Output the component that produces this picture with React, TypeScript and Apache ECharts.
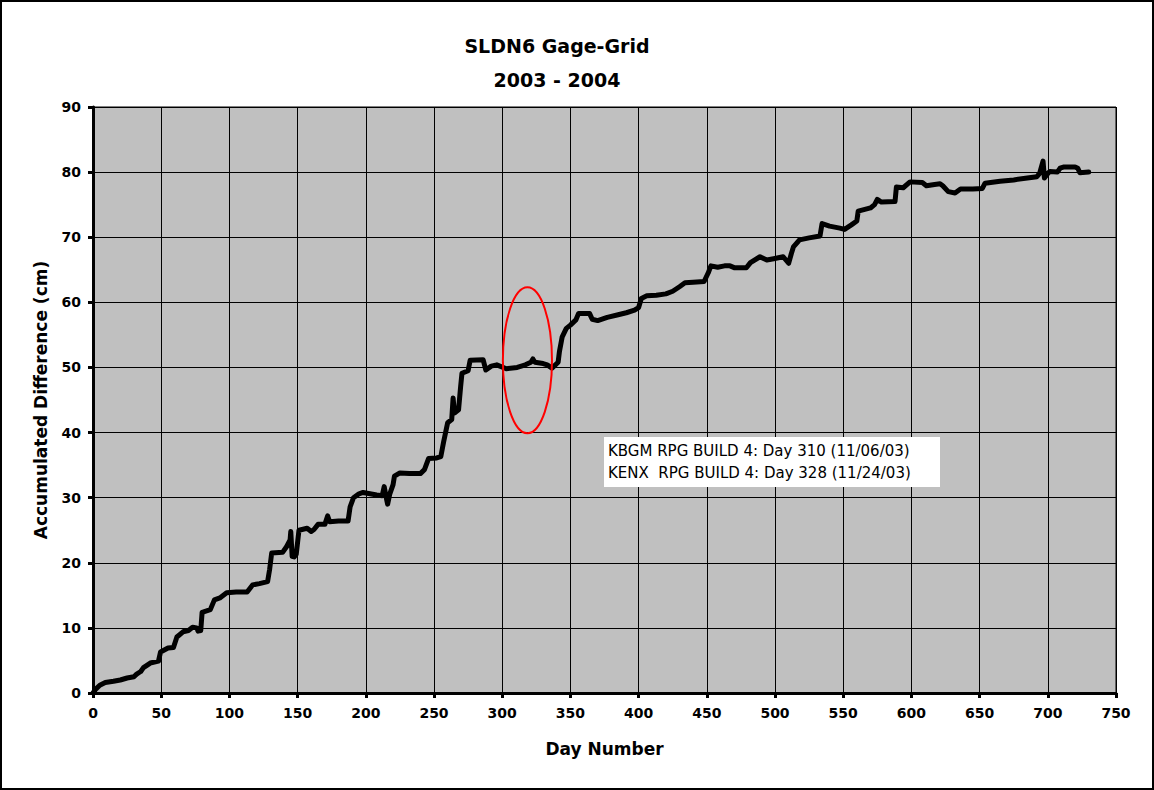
import React, { useEffect, useRef } from "react";
import * as echarts from "echarts";

const titleLines = ["SLDN6 Gage-Grid", "2003 - 2004"];
const xAxisName = "Day Number";
const yAxisName = "Accumulated Difference (cm)";
const noteLines = [
  "KBGM RPG BUILD 4: Day 310 (11/06/03)",
  "KENX  RPG BUILD 4: Day 328 (11/24/03)",
];

const days = [
  0, 2, 5, 9, 15, 20, 25, 30, 32, 35, 37, 42, 48, 49.5, 55, 59, 61.5, 66, 70, 73, 76, 77, 79, 80, 86, 89, 93, 98, 105, 113,
  117, 122, 128, 129.5, 131, 139, 142, 144.5, 145, 146, 147.5, 149, 151, 157, 160, 162, 165, 170, 172, 173.5, 180, 187,
  188.5, 191, 195, 198, 203, 208, 212, 213.5, 215, 216, 217.5, 220, 221, 225, 232, 240, 243, 246, 252, 255, 257, 258.5,
  260, 263, 264, 265, 268, 269.5, 270.5, 275, 276.5, 286, 288, 292, 296, 303, 311, 317, 321, 322.5, 324, 330, 333, 336.5,
  341, 342, 344, 347, 350, 354, 356, 364, 366, 370, 377, 385, 391, 397, 400, 402, 406, 413, 420, 425, 430, 434, 440, 448,
  451, 453, 458, 463, 467, 470.5, 479, 482, 489, 494, 499, 506, 508, 510, 512, 513.5, 518, 525, 533, 534.5, 540, 547.5,
  551, 556, 560, 561, 570, 573, 575, 578, 588, 589, 594, 599, 608, 611, 617, 621, 623, 627, 632, 636, 645, 652, 654, 665,
  675, 685, 692, 694, 696.5, 697.5, 700, 701.5, 707, 709, 712, 720, 722, 723.5, 730,
];
const values = [
  0, 0.6, 1.2, 1.6, 1.8, 2.0, 2.3, 2.5, 2.9, 3.3, 3.9, 4.6, 4.9, 6.3, 6.9, 7.0, 8.6, 9.4, 9.6, 10.1, 10.0, 9.5, 9.6, 12.4,
  12.8, 14.3, 14.6, 15.4, 15.5, 15.5, 16.6, 16.8, 17.1, 19, 21.5, 21.6, 22.5, 23.5, 24.8, 21.0, 20.9, 21.3, 25, 25.3, 24.8,
  25.1, 25.9, 25.9, 27.2, 26.3, 26.4, 26.4, 28.6, 30, 30.6, 30.8, 30.6, 30.4, 30.3, 31.7, 30.0, 29.0, 30.5, 32, 33.3, 33.8,
  33.7, 33.7, 34.3, 36, 36.1, 36.3, 38.5, 40, 41.5, 42, 45.3, 43, 43.5, 47, 49.1, 49.5, 51.1, 51.2, 49.6, 50.2, 50.4, 49.8,
  50.0, 50.4, 50.8, 51.3, 50.8, 50.6, 50.4, 49.9, 50.8, 52.5, 54.7, 56, 56.5, 57.3, 58.3, 58.3, 57.4, 57.2, 57.7, 58.1,
  58.4, 58.8, 59.2, 60.6, 61.0, 61.1, 61.3, 61.7, 62.4, 63.0, 63.1, 63.2, 64.5, 65.6, 65.4, 65.6, 65.6, 65.3, 65.3, 66.1,
  67, 66.5, 66.7, 67.0, 66.5, 66.0, 67.5, 68.5, 69.6, 69.9, 70.2, 72.1, 71.7, 71.4, 71.2, 71.9, 72.5, 74.0, 74.5, 75,
  75.8, 75.4, 75.5, 77.7, 77.6, 78.5, 78.4, 77.9, 78.1, 78.2, 77.9, 77.0, 76.8, 77.4, 77.4, 77.5, 78.3, 78.6, 78.8, 79.1,
  79.3, 79.8, 81.7, 79.1, 79.8, 80.1, 80.0, 80.6, 80.8, 80.8, 80.6, 79.9, 80.0,
];

const ellipseCenter = [318.5, 51.1];
const ellipseRadius = [18, 11.2];

export default function App() {
  const ref = useRef<HTMLDivElement>(null);
  useEffect(() => {
    document.body.style.margin = "0";
    const chart = echarts.init(ref.current!, null, { renderer: "svg" });
    const font = "DejaVu Sans";
    const lineData = days.map((d, i) => [d, values[i]]);
    chart.setOption({
      animation: false,
      backgroundColor: "#ffffff",
      grid: {
        left: 93,
        top: 107,
        right: 38,
        bottom: 97,
        show: true,
        backgroundColor: "#c0c0c0",
        borderColor: "#000",
        borderWidth: 1,
      },
      xAxis: {
        type: "value",
        min: 0,
        max: 750,
        interval: 50,
        name: xAxisName,
        nameLocation: "middle",
        nameGap: 47,
        nameTextStyle: { fontFamily: font, fontWeight: "bold", fontSize: 17, color: "#000" },
        axisLine: { show: true, onZero: false, lineStyle: { color: "#000", width: 3 } },
        axisTick: { show: true, length: 5, lineStyle: { color: "#000", width: 3 } },
        axisLabel: { fontFamily: font, fontWeight: "bold", fontSize: 14, color: "#000", margin: 13 },
        splitLine: { show: true, lineStyle: { color: "#000", width: 1 } },
      },
      yAxis: {
        type: "value",
        min: 0,
        max: 90,
        interval: 10,
        name: yAxisName,
        nameLocation: "middle",
        nameRotate: 90,
        nameGap: 44,
        nameTextStyle: { fontFamily: font, fontWeight: "bold", fontSize: 17, color: "#000" },
        axisLine: { show: true, onZero: false, lineStyle: { color: "#000", width: 3 } },
        axisTick: { show: true, length: 5, lineStyle: { color: "#000", width: 3 } },
        axisLabel: { fontFamily: font, fontWeight: "bold", fontSize: 14, color: "#000", margin: 12 },
        splitLine: { show: true, lineStyle: { color: "#000", width: 1 } },
      },
      series: [
        {
          type: "line",
          data: lineData,
          showSymbol: false,
          symbol: "none",
          lineStyle: { color: "#000", width: 5, join: "round", cap: "round" },
          z: 3,
        },
        {
          type: "custom",
          data: [ellipseCenter],
          clip: false,
          z: 5,
          renderItem: (params: any, api: any) => {
            const c = api.coord([api.value(0), api.value(1)]);
            const s = api.size([ellipseRadius[0], ellipseRadius[1]]);
            return {
              type: "ellipse",
              shape: { cx: c[0], cy: c[1], rx: s[0], ry: s[1] },
              style: { fill: "none", stroke: "#ff0000", lineWidth: 2 },
            };
          },
        },
      ],
      graphic: [
        {
          type: "rect",
          shape: { x: 1, y: 1, width: 1152, height: 788 },
          style: { fill: "none", stroke: "#000", lineWidth: 2 },
          z: 100,
        },
        {
          type: "text",
          x: 557,
          y: 46,
          style: {
            text: titleLines[0],
            fontFamily: font,
            fontWeight: "bold",
            fontSize: 19,
            fill: "#000",
            textAlign: "center",
            textVerticalAlign: "middle",
          },
        },
        {
          type: "text",
          x: 557,
          y: 80,
          style: {
            text: titleLines[1],
            fontFamily: font,
            fontWeight: "bold",
            fontSize: 19,
            fill: "#000",
            textAlign: "center",
            textVerticalAlign: "middle",
          },
        },
        {
          type: "rect",
          shape: { x: 604, y: 437, width: 336, height: 50 },
          style: { fill: "#ffffff", stroke: "none" },
          z: 10,
        },
        {
          type: "text",
          x: 608,
          y: 451,
          z: 11,
          style: {
            text: noteLines[0],
            fontFamily: font,
            fontSize: 15,
            fill: "#000",
            textAlign: "left",
            textVerticalAlign: "middle",
          },
        },
        {
          type: "text",
          x: 608,
          y: 473,
          z: 11,
          style: {
            text: noteLines[1],
            fontFamily: font,
            fontSize: 15,
            fill: "#000",
            textAlign: "left",
            textVerticalAlign: "middle",
          },
        },
      ],
    });
    return () => chart.dispose();
  }, []);
  return <div ref={ref} style={{ width: 1154, height: 790 }} />;
}
